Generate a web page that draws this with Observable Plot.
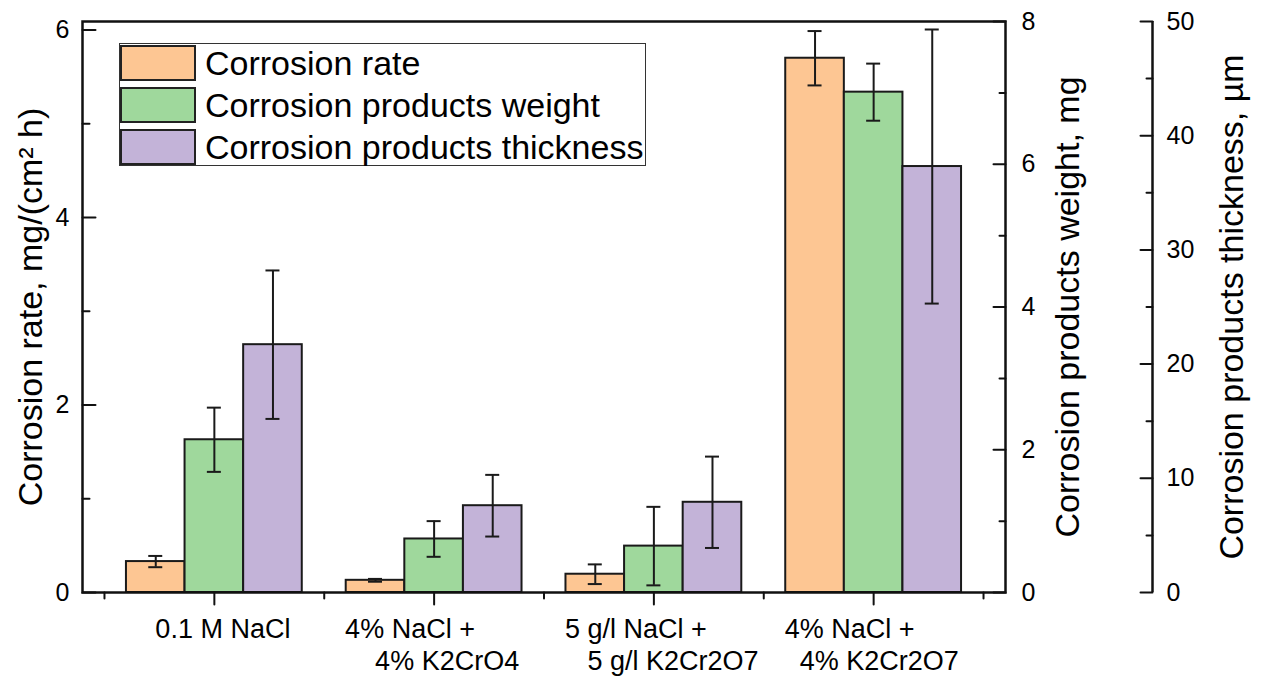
<!DOCTYPE html>
<html><head><meta charset="utf-8">
<script src="https://cdn.jsdelivr.net/npm/d3@7"></script>
<script src="https://cdn.jsdelivr.net/npm/@observablehq/plot@0.6"></script>
<style>
body{margin:0;background:#fff;font-family:"Liberation Sans",Arial,sans-serif;}
#wrap{position:relative;width:1262px;height:677px;}
#legend{position:absolute;left:119px;top:43px;width:527px;height:123px;border:1.5px solid #333;background:#fff;box-sizing:border-box;}
.row{position:absolute;left:0;height:36px;display:flex;align-items:center;white-space:nowrap;}
.sw{width:76px;height:36px;box-sizing:border-box;border:2px solid #222;flex:none;}
.lab{margin-left:9px;font-size:34px;color:#000;line-height:36px;}
</style></head>
<body><div id="wrap"></div>
<script>
// ---- data ----
const groups = ["0.1 M NaCl", "4% NaCl + 4% K2CrO4", "5 g/l NaCl + 5 g/l K2Cr2O7", "4% NaCl + 4% K2Cr2O7"];
const labelLine1 = ["    0.1 M NaCl", "4% NaCl +", "5 g/l NaCl +", "4% NaCl +"];
const labelLine2 = ["", "    4% K2CrO4", "   5 g/l K2Cr2O7", "  4% K2Cr2O7"];
const seriesNames = ["Corrosion rate", "Corrosion products weight", "Corrosion products thickness"];
const seriesColors = ["#FDC693", "#9FD89C", "#C3B3D8"];
const rate = [0.33, 0.13, 0.195, 5.70];          // mg/(cm2 h)
const rateErr = [0.06, 0.015, 0.105, 0.29];
const weight = [2.14, 0.75, 0.65, 7.01];         // mg
const weightErr = [0.45, 0.25, 0.55, 0.40];
const thickness = [21.7, 7.6, 7.9, 37.3];        // µm
const thicknessErr = [6.5, 2.7, 4.0, 12.0];
const rateTicks = [0, 2, 4, 6], rateMinor = [1, 3, 5];
const weightTicks = [0, 2, 4, 6, 8], weightMinor = [1, 3, 5, 7];
const thickTicks = [0, 10, 20, 30, 40, 50], thickMinor = [5, 15, 25, 35, 45];
const titleLeft = "Corrosion rate, mg/(cm\u00B2 h)";
const titleWeight = "Corrosion products weight, mg";
const titleThick = "Corrosion products thickness, \u00B5m";

// ---- scales setup ----
const rateMax = 6.092, weightMax = 8, thickMax = 50;
const kW = rateMax / weightMax, kT = rateMax / thickMax;
const barW = 0.8 / 3;
const values = [rate, weight, thickness];
const errs = [rateErr, weightErr, thicknessErr];
const ks = [1, kW, kT];
const rows = [];
groups.forEach((g, i) => {
  for (let j = 0; j < 3; j++) {
    const c = i + 1 + (j - 1) * barW;
    const v = values[j][i] * ks[j], e = errs[j][i] * ks[j];
    rows.push({group: g, series: seriesNames[j], x1: c - barW / 2, x2: c + barW / 2, xc: c, v, lo: v - e, hi: v + e});
  }
});
const tickShape = {draw(ctx, l) { ctx.moveTo(0, 0); ctx.lineTo(0, -l); }};
const tick = (data, opts) => Plot.vector(data, {shape: tickShape, anchor: "start", stroke: "#111", strokeWidth: 2, ...opts});
const nb = s => s.replace(/^ +/, m => "\u00A0".repeat(m.length));
const catText = i => [labelLine1[i], labelLine2[i]].filter(s => s).map(nb).join("\n");
const font = "Liberation Sans, Arial, sans-serif";
const AX2 = 147;
const tickFont = 25, titleFont = 34;

const chart = Plot.plot({
  width: 1262, height: 677,
  marginLeft: 82, marginRight: 257, marginTop: 21, marginBottom: 85,
  style: {fontFamily: font, background: "#fff", color: "#000"},
  x: {domain: [0.4, 4.6], axis: null},
  y: {domain: [0, rateMax], axis: null},
  color: {domain: seriesNames, range: seriesColors},
  marks: [
    Plot.rect(rows, {x1: "x1", x2: "x2", y1: 0, y2: "v", fill: "series", stroke: "#1a1a1a", strokeWidth: 2}),
    Plot.ruleX(rows, {x: "xc", y1: "lo", y2: "hi", stroke: "#1a1a1a", strokeWidth: 2}),
    Plot.ruleY(rows, {x1: "xc", x2: "xc", y: "hi", insetLeft: -7, insetRight: -7, stroke: "#1a1a1a", strokeWidth: 2}),
    Plot.ruleY(rows, {x1: "xc", x2: "xc", y: "lo", insetLeft: -7, insetRight: -7, stroke: "#1a1a1a", strokeWidth: 2}),
    Plot.frame({stroke: "#111", strokeWidth: 2.5}),
    // left axis
    tick(rateTicks, {y: d => d, frameAnchor: "left", rotate: 90, length: 13}),
    tick(rateMinor, {y: d => d, frameAnchor: "left", rotate: 90, length: 7}),
    Plot.text(rateTicks, {y: d => d, text: d => String(d), frameAnchor: "left", textAnchor: "end", dx: -13, fontSize: tickFont}),
    Plot.text([titleLeft], {frameAnchor: "left", textAnchor: "middle", rotate: -90, dx: -51, fontSize: titleFont, text: d => d}),
    // weight axis (right frame)
    tick(weightTicks, {y: d => d * kW, frameAnchor: "right", rotate: -90, length: 12}),
    tick(weightMinor, {y: d => d * kW, frameAnchor: "right", rotate: -90, length: 6}),
    Plot.text(weightTicks, {y: d => d * kW, text: d => String(d), frameAnchor: "right", textAnchor: "start", dx: 16, fontSize: tickFont}),
    Plot.text([titleWeight], {frameAnchor: "right", textAnchor: "middle", rotate: -90, dx: 63, fontSize: titleFont, text: d => d}),
    // thickness axis (offset)
    Plot.ruleX([4.6], {y1: 0, y2: rateMax, dx: AX2, stroke: "#111", strokeWidth: 2.5}),
    tick(thickTicks, {y: d => d * kT, frameAnchor: "right", dx: AX2, rotate: -90, length: 12}),
    tick(thickMinor, {y: d => d * kT, frameAnchor: "right", dx: AX2, rotate: -90, length: 6}),
    Plot.text(thickTicks, {y: d => d * kT, text: d => String(d), frameAnchor: "right", textAnchor: "start", dx: AX2 + 14, fontSize: tickFont}),
    Plot.text([titleThick], {frameAnchor: "right", textAnchor: "middle", rotate: -90, dx: 227, fontSize: titleFont, text: d => d}),
    // bottom axis
    tick([1, 2, 3, 4], {x: d => d, frameAnchor: "bottom", rotate: 180, length: 12}),
    tick([0.5, 1.5, 2.5, 3.5, 4.5], {x: d => d, frameAnchor: "bottom", rotate: 180, length: 6}),
    Plot.text(d3.range(groups.length), {x: i => i + 1, text: catText, frameAnchor: "bottom", textAnchor: "start", lineAnchor: "top", dx: -89, dy: 23, fontSize: 27, lineHeight: 1.18})
  ]
});
const wrap = document.getElementById("wrap");
wrap.appendChild(chart);

// legend overlay
const legend = document.createElement("div");
legend.id = "legend";
seriesNames.forEach((name, j) => {
  const row = document.createElement("div");
  row.className = "row";
  row.style.top = (1 + j * 42) + "px";
  const sw = document.createElement("div");
  sw.className = "sw";
  sw.style.background = seriesColors[j];
  const lab = document.createElement("span");
  lab.className = "lab";
  lab.textContent = name;
  row.appendChild(sw); row.appendChild(lab);
  legend.appendChild(row);
});
wrap.appendChild(legend);
</script>
</body></html>
